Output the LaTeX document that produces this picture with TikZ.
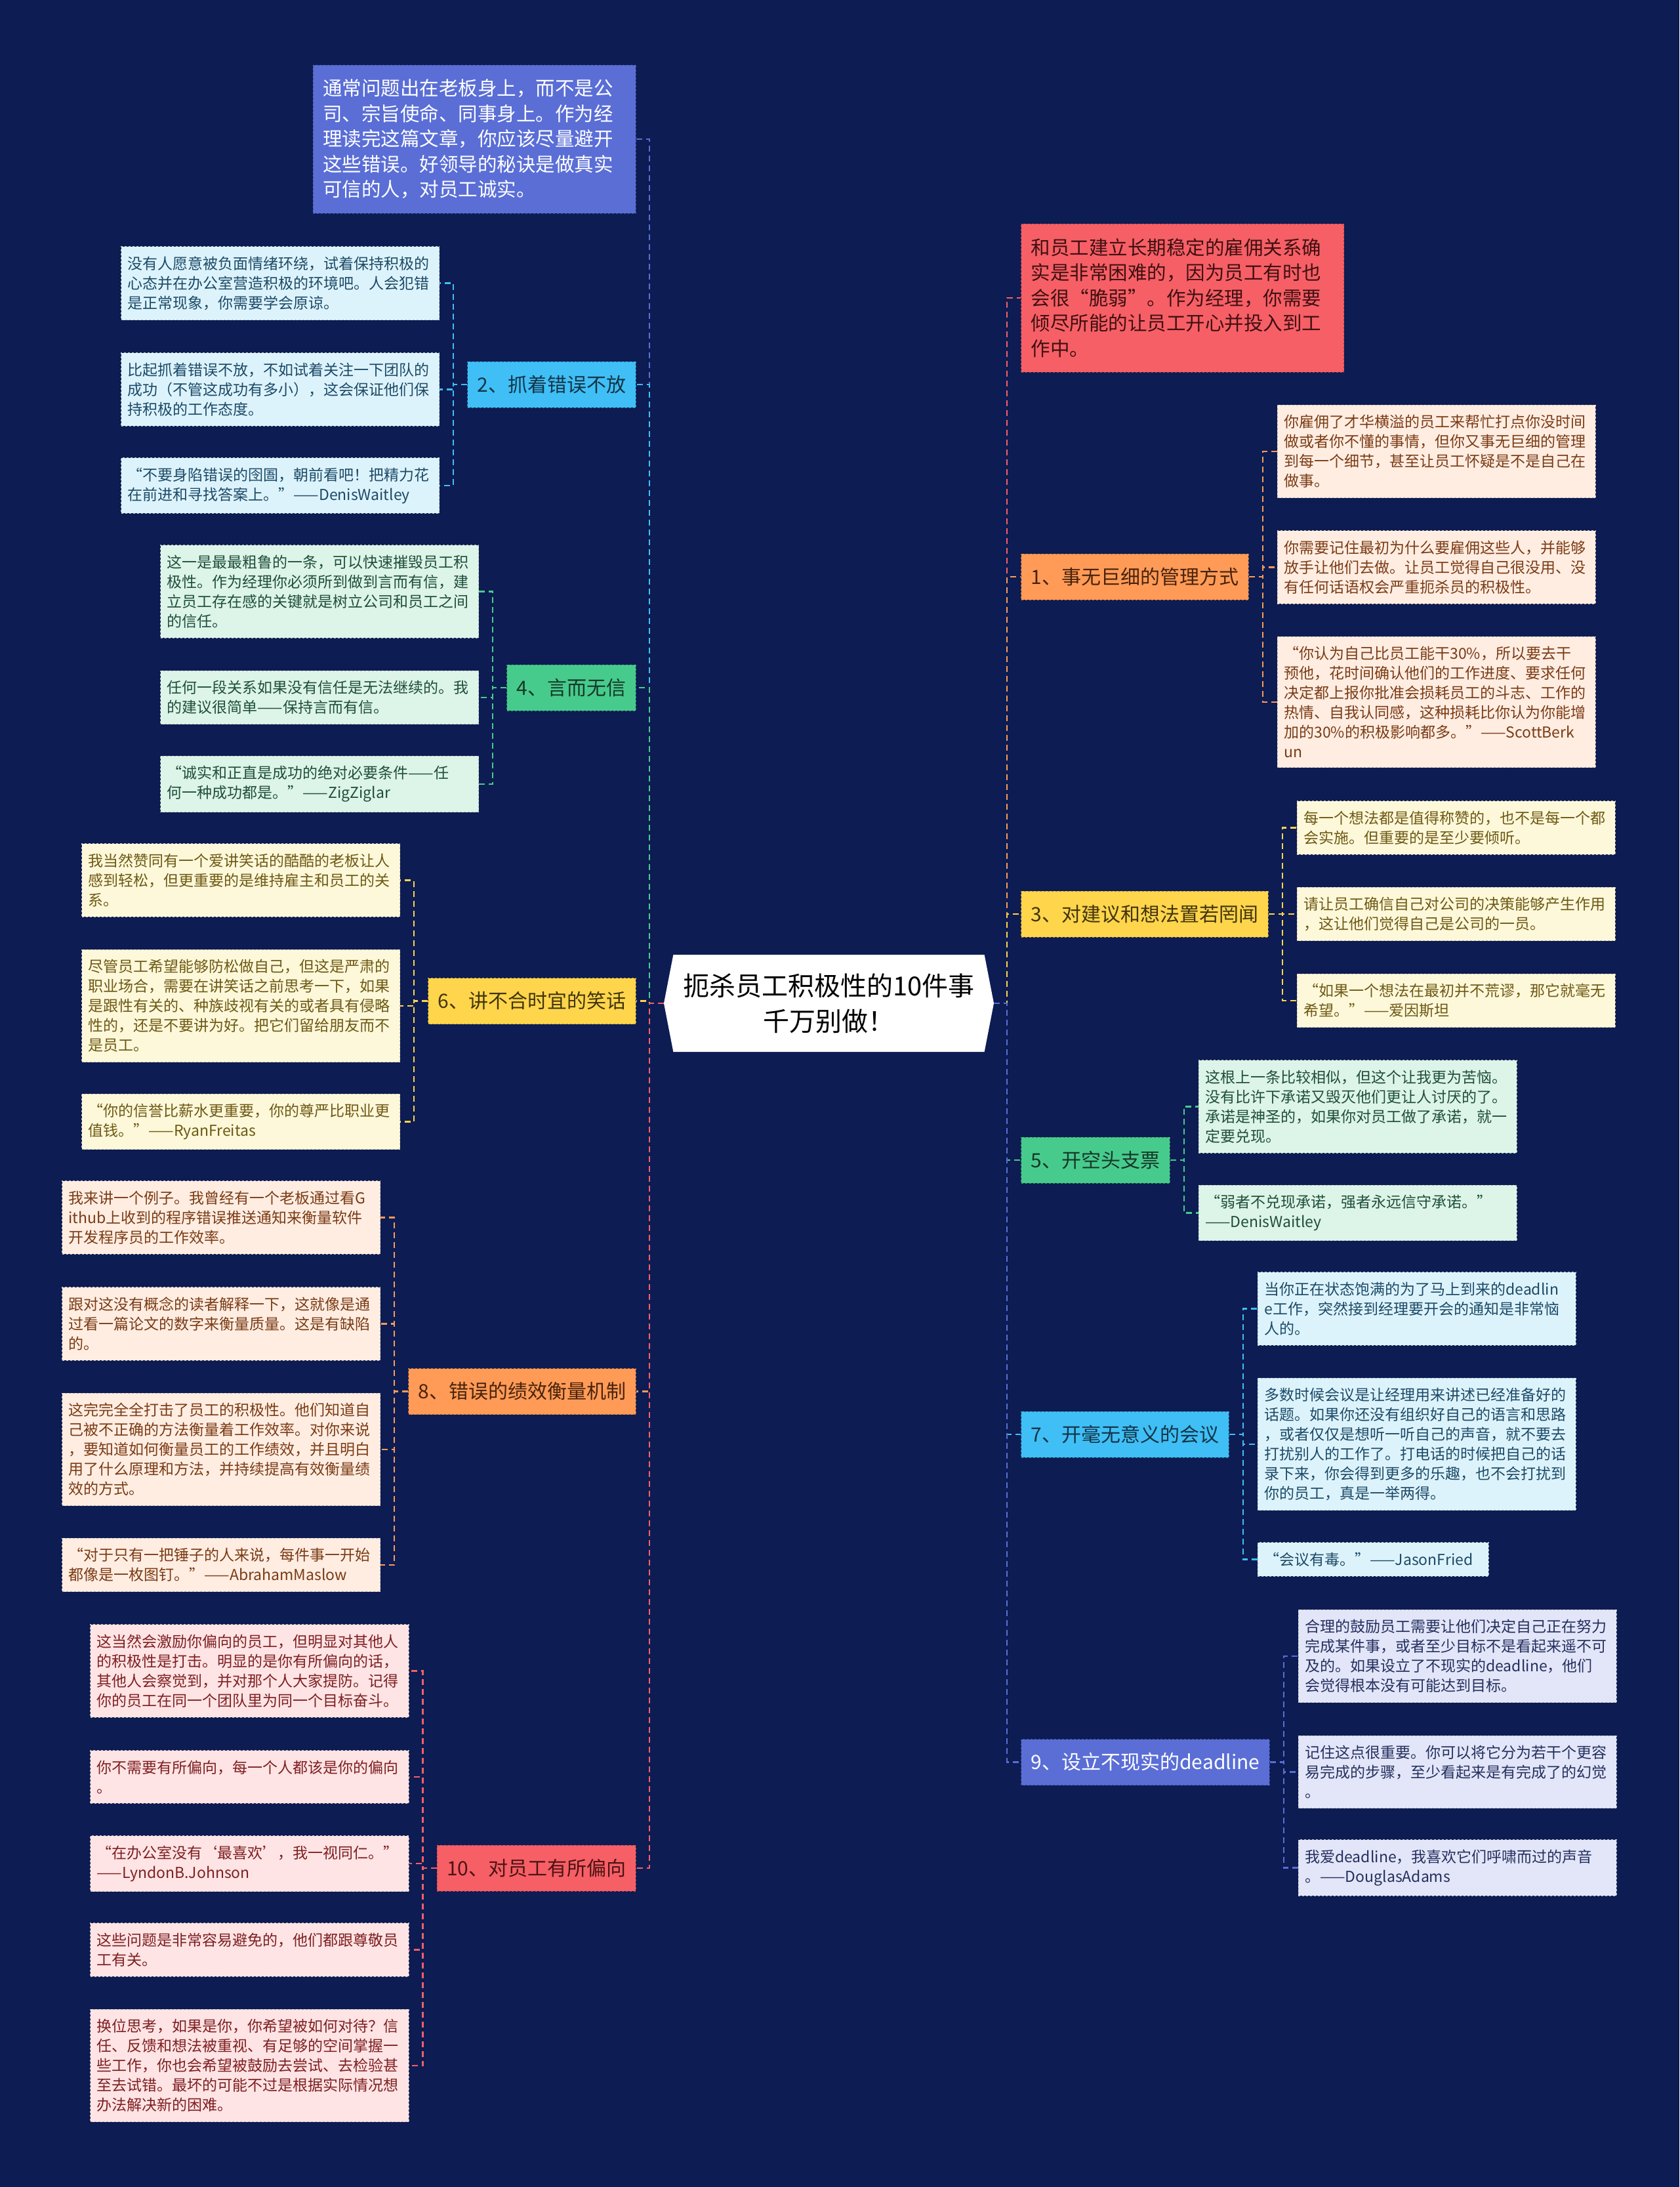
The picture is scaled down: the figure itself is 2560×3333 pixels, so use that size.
\documentclass[tikz,border=0pt]{standalone}
\usepackage{fontspec}
\setmainfont{Noto Sans CJK SC}
\usetikzlibrary{calc}
\usetikzlibrary{shapes.symbols}

\definecolor{bgnavy}{HTML}{0D1C52}
\definecolor{purpleblue}{HTML}{5A6ED6}
\definecolor{skyblue}{HTML}{3FBFF5}
\definecolor{mint}{HTML}{47CB8C}
\definecolor{sun}{HTML}{FFD54C}
\definecolor{tangerine}{HTML}{FF9B57}
\definecolor{coral}{HTML}{F65F66}
\definecolor{skyleaf}{HTML}{DDF3FC}
\definecolor{mintleaf}{HTML}{DDF4E9}
\definecolor{sunleaf}{HTML}{FEF8DA}
\definecolor{tangleaf}{HTML}{FFEDE2}
\definecolor{coralleaf}{HTML}{FEE4E4}
\definecolor{purpleleaf}{HTML}{E2E6F8}
\definecolor{skytext}{HTML}{1C4A66}
\definecolor{minttext}{HTML}{1F4E3B}
\definecolor{suntext}{HTML}{6D5914}
\definecolor{tangtext}{HTML}{7A3B14}
\definecolor{coraltext}{HTML}{7E1F22}
\definecolor{purpletext}{HTML}{252F5E}

\begin{document}
\begin{tikzpicture}[x=1pt, y=-1pt]

    \tikzset{
        title/.style={signal, signal to=west and east, signal pointer angle=158, fill=white,
            minimum width=503pt, minimum height=148pt, inner sep=0pt, align=center,
            font=\fontsize{40}{54}\selectfont},
        topbox/.style 2 args={draw=#1!70!black, dashed, line width=1pt, fill=#1, text=#2,
            align=left, text width=462pt, inner xsep=15pt, inner ysep=0pt, minimum height=226pt,
            font=\fontsize{29.5}{38.5}\selectfont},
        branch/.style 2 args={draw=#1!70!black, dashed, line width=1pt, fill=#1, text=#2,
            inner xsep=15pt, inner ysep=0pt, minimum height=70pt,
            font=\fontsize{30}{36}\selectfont},
        leaf/.style 2 args={draw=#1!55!gray, dashed, line width=1pt, fill=#1, text=#2,
            align=left, text width=465pt, inner xsep=10pt, inner ysep=15pt,
            font=\fontsize{23}{30}\selectfont},
        link/.style={draw=#1, line width=2.5pt, dash pattern=on 9pt off 6pt}
    }

    \fill[bgnavy] (0,0) rectangle (2560,3333);
    \useasboundingbox (0,0) rectangle (2560,3333);

    \node [title] (T) at (1263.5, 1529) {扼杀员工积极性的10件事\\千万别做！};

    % left side
    \node [topbox={purpleblue}{white}, anchor=east] (TL) at ($(T.west) + (-42, -1317)$)
        {通常问题出在老板身上，而不是公\\司、宗旨使命、同事身上。作为经\\理读完这篇文章，你应该尽量避开\\这些错误。好领导的秘诀是做真实\\可信的人，对员工诚实。};
    \node [branch={skyblue}{skytext!70!black}, anchor=east] (B2) at ($(T.west) + (-42, -943)$) {2、抓着错误不放};
        \node [leaf={skyleaf}{skytext}, anchor=east] (L2a) at ($(B2.west) + (-42, -154.5)$)
            {没有人愿意被负面情绪环绕，试着保持积极的\\心态并在办公室营造积极的环境吧。人会犯错\\是正常现象，你需要学会原谅。};
        \node [leaf={skyleaf}{skytext}, anchor=east] (L2b) at ($(B2.west) + (-42, 7.5)$)
            {比起抓着错误不放，不如试着关注一下团队的\\成功（不管这成功有多小），这会保证他们保\\持积极的工作态度。};
        \node [leaf={skyleaf}{skytext}, anchor=east] (L2c) at ($(B2.west) + (-42, 154)$)
            {“不要身陷错误的囹圄，朝前看吧！把精力花\\在前进和寻找答案上。”——DenisWaitley};
    \node [branch={mint}{minttext!70!black}, anchor=east] (B4) at ($(T.west) + (-42, -481)$) {4、言而无信};
        \node [leaf={mintleaf}{minttext}, anchor=east] (L4a) at ($(B4.west) + (-42, -146.5)$)
            {这一是最最粗鲁的一条，可以快速摧毁员工积\\极性。作为经理你必须所到做到言而有信，建\\立员工存在感的关键就是树立公司和员工之间\\的信任。};
        \node [leaf={mintleaf}{minttext}, anchor=east] (L4b) at ($(B4.west) + (-42, 15)$)
            {任何一段关系如果没有信任是无法继续的。我\\的建议很简单——保持言而有信。};
        \node [leaf={mintleaf}{minttext}, anchor=east] (L4c) at ($(B4.west) + (-42, 147)$)
            {“诚实和正直是成功的绝对必要条件——任\\何一种成功都是。”——ZigZiglar};
    \node [branch={sun}{suntext!60!black}, anchor=east] (B6) at ($(T.west) + (-42, -3.5)$) {6、讲不合时宜的笑话};
        \node [leaf={sunleaf}{suntext}, anchor=east] (L6a) at ($(B6.west) + (-42, -184)$)
            {我当然赞同有一个爱讲笑话的酷酷的老板让人\\感到轻松，但更重要的是维持雇主和员工的关\\系。};
        \node [leaf={sunleaf}{suntext}, anchor=east] (L6b) at ($(B6.west) + (-42, 7.5)$)
            {尽管员工希望能够防松做自己，但这是严肃的\\职业场合，需要在讲笑话之前思考一下，如果\\是跟性有关的、种族歧视有关的或者具有侵略\\性的，还是不要讲为好。把它们留给朋友而不\\是员工。};
        \node [leaf={sunleaf}{suntext}, anchor=east] (L6c) at ($(B6.west) + (-42, 184)$)
            {“你的信誉比薪水更重要，你的尊严比职业更\\值钱。”——RyanFreitas};
    \node [branch={tangerine}{tangtext!60!black}, anchor=east] (B8) at ($(T.west) + (-42, 591.5)$) {8、错误的绩效衡量机制};
        \node [leaf={tangleaf}{tangtext}, anchor=east] (L8a) at ($(B8.west) + (-42, -265)$)
            {我来讲一个例子。我曾经有一个老板通过看G\\ithub上收到的程序错误推送通知来衡量软件\\开发程序员的工作效率。};
        \node [leaf={tangleaf}{tangtext}, anchor=east] (L8b) at ($(B8.west) + (-42, -103)$)
            {跟对这没有概念的读者解释一下，这就像是通\\过看一篇论文的数字来衡量质量。这是有缺陷\\的。};
        \node [leaf={tangleaf}{tangtext}, anchor=east] (L8c) at ($(B8.west) + (-42, 88.5)$)
            {这完完全全打击了员工的积极性。他们知道自\\己被不正确的方法衡量着工作效率。对你来说\\，要知道如何衡量员工的工作绩效，并且明白\\用了什么原理和方法，并持续提高有效衡量绩\\效的方式。};
        \node [leaf={tangleaf}{tangtext}, anchor=east] (L8d) at ($(B8.west) + (-42, 264.5)$)
            {“对于只有一把锤子的人来说，每件事一开始\\都像是一枚图钉。”——AbrahamMaslow};
    \node [branch={coral}{coraltext!60!black}, anchor=east] (B10) at ($(T.west) + (-42, 1318)$) {10、对员工有所偏向};
        \node [leaf={coralleaf}{coraltext}, anchor=east] (L10a) at ($(B10.west) + (-42, -300.5)$)
            {这当然会激励你偏向的员工，但明显对其他人\\的积极性是打击。明显的是你有所偏向的话，\\其他人会察觉到，并对那个人大家提防。记得\\你的员工在同一个团队里为同一个目标奋斗。};
        \node [leaf={coralleaf}{coraltext}, anchor=east] (L10b) at ($(B10.west) + (-42, -139)$)
            {你不需要有所偏向，每一个人都该是你的偏向\\。};
        \node [leaf={coralleaf}{coraltext}, anchor=east] (L10c) at ($(B10.west) + (-42, -7)$)
            {“在办公室没有‘最喜欢’，我一视同仁。”\\——LyndonB.Johnson};
        \node [leaf={coralleaf}{coraltext}, anchor=east] (L10d) at ($(B10.west) + (-42, 124.5)$)
            {这些问题是非常容易避免的，他们都跟尊敬员\\工有关。};
        \node [leaf={coralleaf}{coraltext}, anchor=east] (L10e) at ($(B10.west) + (-42, 301)$)
            {换位思考，如果是你，你希望被如何对待？信\\任、反馈和想法被重视、有足够的空间掌握一\\些工作，你也会希望被鼓励去尝试、去检验甚\\至去试错。最坏的可能不过是根据实际情况想\\办法解决新的困难。};

    % right side
    \node [topbox={coral}{coraltext!50!black}, anchor=west] (TR) at ($(T.east) + (41, -1075)$)
        {和员工建立长期稳定的雇佣关系确\\实是非常困难的，因为员工有时也\\会很“脆弱”。作为经理，你需要\\倾尽所能的让员工开心并投入到工\\作中。};
    \node [branch={tangerine}{tangtext!60!black}, anchor=west] (B1) at ($(T.east) + (41, -650)$) {1、事无巨细的管理方式};
        \node [leaf={tangleaf}{tangtext}, anchor=west] (L1a) at ($(B1.east) + (43, -191)$)
            {你雇佣了才华横溢的员工来帮忙打点你没时间\\做或者你不懂的事情，但你又事无巨细的管理\\到每一个细节，甚至让员工怀疑是不是自己在\\做事。};
        \node [leaf={tangleaf}{tangtext}, anchor=west] (L1b) at ($(B1.east) + (43, -14.5)$)
            {你需要记住最初为什么要雇佣这些人，并能够\\放手让他们去做。让员工觉得自己很没用、没\\有任何话语权会严重扼杀员的积极性。};
        \node [leaf={tangleaf}{tangtext}, anchor=west] (L1c) at ($(B1.east) + (43, 191)$)
            {“你认为自己比员工能干30\%，所以要去干\\预他，花时间确认他们的工作进度、要求任何\\决定都上报你批准会损耗员工的斗志、工作的\\热情、自我认同感，这种损耗比你认为你能增\\加的30\%的积极影响都多。”——ScottBerk\\un};
    \node [branch={sun}{suntext!60!black}, anchor=west] (B3) at ($(T.east) + (41, -136)$) {3、对建议和想法置若罔闻};
        \node [leaf={sunleaf}{suntext}, anchor=west] (L3a) at ($(B3.east) + (43, -131.5)$)
            {每一个想法都是值得称赞的，也不是每一个都\\会实施。但重要的是至少要倾听。};
        \node [leaf={sunleaf}{suntext}, anchor=west] (L3b) at ($(B3.east) + (43, 0)$)
            {请让员工确信自己对公司的决策能够产生作用\\，这让他们觉得自己是公司的一员。};
        \node [leaf={sunleaf}{suntext}, anchor=west] (L3c) at ($(B3.east) + (43, 132)$)
            {“如果一个想法在最初并不荒谬，那它就毫无\\希望。”——爱因斯坦};
    \node [branch={mint}{minttext!70!black}, anchor=west] (B5) at ($(T.east) + (41, 239)$) {5、开空头支票};
        \node [leaf={mintleaf}{minttext}, anchor=west] (L5a) at ($(B5.east) + (43, -81.5)$)
            {这根上一条比较相似，但这个让我更为苦恼。\\没有比许下承诺又毁灭他们更让人讨厌的了。\\承诺是神圣的，如果你对员工做了承诺，就一\\定要兑现。};
        \node [leaf={mintleaf}{minttext}, anchor=west] (L5b) at ($(B5.east) + (43, 80.5)$)
            {“弱者不兑现承诺，强者永远信守承诺。”\\——DenisWaitley};
    \node [branch={skyblue}{skytext!70!black}, anchor=west] (B7) at ($(T.east) + (41, 657)$) {7、开毫无意义的会议};
        \node [leaf={skyleaf}{skytext}, anchor=west] (L7a) at ($(B7.east) + (43, -191.5)$)
            {当你正在状态饱满的为了马上到来的deadlin\\e工作，突然接到经理要开会的通知是非常恼\\人的。};
        \node [leaf={skyleaf}{skytext}, anchor=west] (L7b) at ($(B7.east) + (43, 15)$)
            {多数时候会议是让经理用来讲述已经准备好的\\话题。如果你还没有组织好自己的语言和思路\\，或者仅仅是想听一听自己的声音，就不要去\\打扰别人的工作了。打电话的时候把自己的话\\录下来，你会得到更多的乐趣，也不会打扰到\\你的员工，真是一举两得。};
        \node [leaf={skyleaf}{skytext}, text width=332pt, anchor=west] (L7c) at ($(B7.east) + (43, 190.5)$)
            {“会议有毒。”——JasonFried};
    \node [branch={purpleblue}{white}, anchor=west] (B9) at ($(T.east) + (41, 1156.5)$) {9、设立不现实的deadline};
        \node [leaf={purpleleaf}{purpletext}, anchor=west] (L9a) at ($(B9.east) + (43, -161.5)$)
            {合理的鼓励员工需要让他们决定自己正在努力\\完成某件事，或者至少目标不是看起来遥不可\\及的。如果设立了不现实的deadline，他们\\会觉得根本没有可能达到目标。};
        \node [leaf={purpleleaf}{purpletext}, anchor=west] (L9b) at ($(B9.east) + (43, 15)$)
            {记住这点很重要。你可以将它分为若干个更容\\易完成的步骤，至少看起来是有完成了的幻觉\\。};
        \node [leaf={purpleleaf}{purpletext}, anchor=west] (L9c) at ($(B9.east) + (43, 161)$)
            {我爱deadline，我喜欢它们呼啸而过的声音\\。——DouglasAdams};

    % trunks
    \draw [link=purpleblue] (T.west) -- ++(-22, 0) |- (TL.east);
    \draw [link=skyblue] (T.west) -- ++(-22, 0) |- (B2.east);
    \draw [link=mint] (T.west) -- ++(-22, 0) |- (B4.east);
    \draw [link=sun] (T.west) -- ++(-22, 0) |- (B6.east);
    \draw [link=tangerine] (T.west) -- ++(-22, 0) |- (B8.east);
    \draw [link=coral] (T.west) -- ++(-22, 0) |- (B10.east);
    \draw [link=coral] (T.east) -- ++(20, 0) |- (TR.west);
    \draw [link=tangerine] (T.east) -- ++(20, 0) |- (B1.west);
    \draw [link=sun] (T.east) -- ++(20, 0) |- (B3.west);
    \draw [link=mint] (T.east) -- ++(20, 0) |- (B5.west);
    \draw [link=skyblue] (T.east) -- ++(20, 0) |- (B7.west);
    \draw [link=purpleblue] (T.east) -- ++(20, 0) |- (B9.west);

    % leaves
    \draw [link=skyblue] (B2.west) -- ++(-21, 0) |- (L2a.east);
    \draw [link=skyblue] (B2.west) -- ++(-21, 0) |- (L2b.east);
    \draw [link=skyblue] (B2.west) -- ++(-21, 0) |- (L2c.east);
    \draw [link=mint] (B4.west) -- ++(-21, 0) |- (L4a.east);
    \draw [link=mint] (B4.west) -- ++(-21, 0) |- (L4b.east);
    \draw [link=mint] (B4.west) -- ++(-21, 0) |- (L4c.east);
    \draw [link=sun] (B6.west) -- ++(-21, 0) |- (L6a.east);
    \draw [link=sun] (B6.west) -- ++(-21, 0) |- (L6b.east);
    \draw [link=sun] (B6.west) -- ++(-21, 0) |- (L6c.east);
    \draw [link=tangerine] (B8.west) -- ++(-21, 0) |- (L8a.east);
    \draw [link=tangerine] (B8.west) -- ++(-21, 0) |- (L8b.east);
    \draw [link=tangerine] (B8.west) -- ++(-21, 0) |- (L8c.east);
    \draw [link=tangerine] (B8.west) -- ++(-21, 0) |- (L8d.east);
    \draw [link=coral] (B10.west) -- ++(-21, 0) |- (L10a.east);
    \draw [link=coral] (B10.west) -- ++(-21, 0) |- (L10b.east);
    \draw [link=coral] (B10.west) -- ++(-21, 0) |- (L10c.east);
    \draw [link=coral] (B10.west) -- ++(-21, 0) |- (L10d.east);
    \draw [link=coral] (B10.west) -- ++(-21, 0) |- (L10e.east);
    \draw [link=tangerine] (B1.east) -- ++(21, 0) |- (L1a.west);
    \draw [link=tangerine] (B1.east) -- ++(21, 0) |- (L1b.west);
    \draw [link=tangerine] (B1.east) -- ++(21, 0) |- (L1c.west);
    \draw [link=sun] (B3.east) -- ++(21, 0) |- (L3a.west);
    \draw [link=sun] (B3.east) -- ++(21, 0) |- (L3b.west);
    \draw [link=sun] (B3.east) -- ++(21, 0) |- (L3c.west);
    \draw [link=mint] (B5.east) -- ++(21, 0) |- (L5a.west);
    \draw [link=mint] (B5.east) -- ++(21, 0) |- (L5b.west);
    \draw [link=skyblue] (B7.east) -- ++(21, 0) |- (L7a.west);
    \draw [link=skyblue] (B7.east) -- ++(21, 0) |- (L7b.west);
    \draw [link=skyblue] (B7.east) -- ++(21, 0) |- (L7c.west);
    \draw [link=purpleblue] (B9.east) -- ++(21, 0) |- (L9a.west);
    \draw [link=purpleblue] (B9.east) -- ++(21, 0) |- (L9b.west);
    \draw [link=purpleblue] (B9.east) -- ++(21, 0) |- (L9c.west);

\end{tikzpicture}
\end{document}
